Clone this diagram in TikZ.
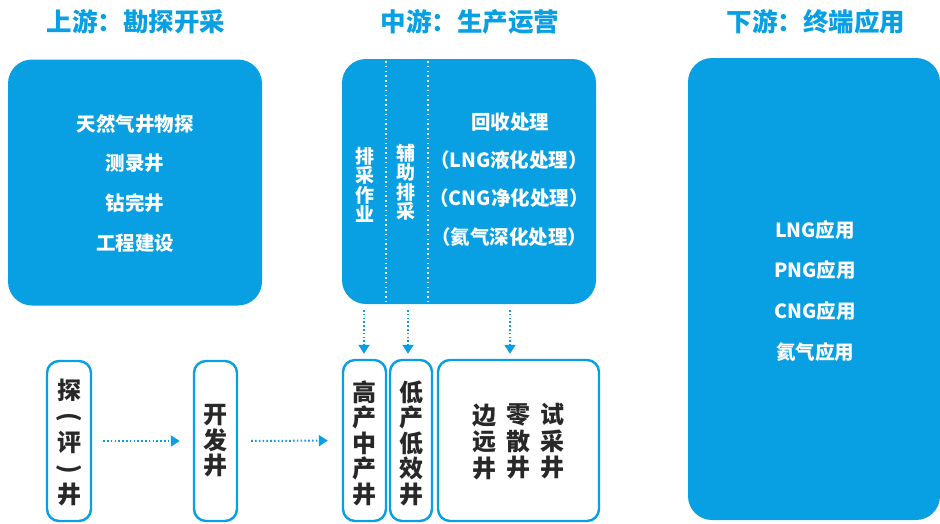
\documentclass[tikz,border=0pt]{standalone}
\usepackage{fontspec}
\setmainfont{Noto Sans CJK SC}
\usetikzlibrary{arrows.meta}
\definecolor{cblue}{RGB}{8,160,226}
\definecolor{ctext}{RGB}{40,40,40}
\tikzset{
  bluebox/.style={fill=cblue, draw=none, rounded corners=24pt, inner sep=0pt},
  wellbox/.style={draw=cblue, line width=2.4pt, fill=white, rounded corners=12pt, inner sep=0pt},
  title/.style={text=cblue, font=\fontsize{25.5}{28}\selectfont\bfseries},
  wtext/.style={text=white, font=\fontsize{19.5}{22}\selectfont\bfseries},
  vtext/.style={text=white, font=\fontsize{19}{19.5}\selectfont\bfseries, align=center},
  btext/.style={text=ctext, font=\fontsize{24}{25.5}\selectfont\bfseries, align=center},
  arr/.style={draw=cblue, line width=2pt, dash pattern=on 1.6pt off 2.2pt, -{Triangle[width=11pt,length=9pt]}},
  sep/.style={draw=white, line width=1.6pt, dash pattern=on 1.6pt off 3.2pt}
}
\newcommand{\vparL}{\rotatebox[origin=c]{-90}{(}}
\newcommand{\vparR}{\rotatebox[origin=c]{-90}{)}}
\begin{document}
\begin{tikzpicture}[x=1pt,y=-1pt]
\useasboundingbox (0,0) rectangle (940,523);
% titles
\node[title] (t1) at (136,22) {上游：勘探开采};
\node[title] (t2) at (470,22) {中游：生产运营};
\node[title] (t3) at (816,22) {下游：终端应用};
% blue boxes
\node[bluebox, minimum width=254pt, minimum height=246pt] (up) at (135,182.5) {};
\node[bluebox, minimum width=254pt, minimum height=245pt] (mid) at (469,181.5) {};
\node[bluebox, minimum width=252pt, minimum height=462pt] (down) at (814,289) {};
% upstream text
\node[wtext] (u1) at (135,124) {天然气井物探};
\node[wtext] (u2) at (135,163) {测录井};
\node[wtext] (u3) at (135,203) {钻完井};
\node[wtext] (u4) at (135,243) {工程建设};
% midstream separators
\draw[sep] (386,61) -- (386,302);
\draw[sep] (428,61) -- (428,302);
\node[vtext] (m1) at (365,185) {排\\采\\作\\业};
\node[vtext] (m2) at (406,182) {辅\\助\\排\\采};
\node[wtext] (m3) at (510,122) {回收处理};
\node[wtext] (m4) at (509,160) {（LNG液化处理）};
\node[wtext] (m5) at (509,198) {（CNG净化处理）};
\node[wtext] (m6) at (509,237) {（氦气深化处理）};
% downstream text
\node[wtext] (d1) at (815,230) {LNG应用};
\node[wtext] (d2) at (815,270) {PNG应用};
\node[wtext] (d3) at (815,311) {CNG应用};
\node[wtext] (d4) at (815,352) {氦气应用};
% wells
\node[wellbox, minimum width=44pt, minimum height=160pt] (tan) at (69,441) {};
\node[btext, font=\fontsize{24}{26}\selectfont\bfseries] at (69,442) {探\\\vparL\\评\\\vparR\\井};
\node[wellbox, minimum width=43pt, minimum height=160pt] (kai) at (215.5,441) {};
\node[btext] at (kai) {开\\发\\井};
\node[wellbox, minimum width=43pt, minimum height=161pt] (gao) at (364.5,440.5) {};
\node[btext] at (364.5,443) {高\\产\\中\\产\\井};
\node[wellbox, minimum width=42pt, minimum height=161pt] (di) at (411,440.5) {};
\node[btext] at (411,443) {低\\产\\低\\效\\井};
\node[wellbox, minimum width=161pt, minimum height=161pt] (bian) at (518.5,440.5) {};
\node[btext, font=\fontsize{24}{26.5}\selectfont\bfseries] (b1) at (484,441.5) {边\\远\\井};
\node[btext, font=\fontsize{24}{26.5}\selectfont\bfseries] (b2) at (518,441.5) {零\\散\\井};
\node[btext, font=\fontsize{24}{26.5}\selectfont\bfseries] (b3) at (552,441.5) {试\\采\\井};
% arrows
\draw[arr, shorten <=11pt, shorten >=13pt] (tan) -- (kai);
\draw[arr, shorten <=13pt, shorten >=14pt] (kai) -- (gao);
\coordinate (a1) at (364,304);
\coordinate (a2) at (408,304);
\coordinate (a3) at (510,304);
\draw[arr, shorten <=6pt, shorten >=5pt] (a1) -- (a1 |- gao.north);
\draw[arr, shorten <=6pt, shorten >=5pt] (a2) -- (a2 |- di.north);
\draw[arr, shorten <=6pt, shorten >=5pt] (a3) -- (a3 |- bian.north);
\end{tikzpicture}
\end{document}
